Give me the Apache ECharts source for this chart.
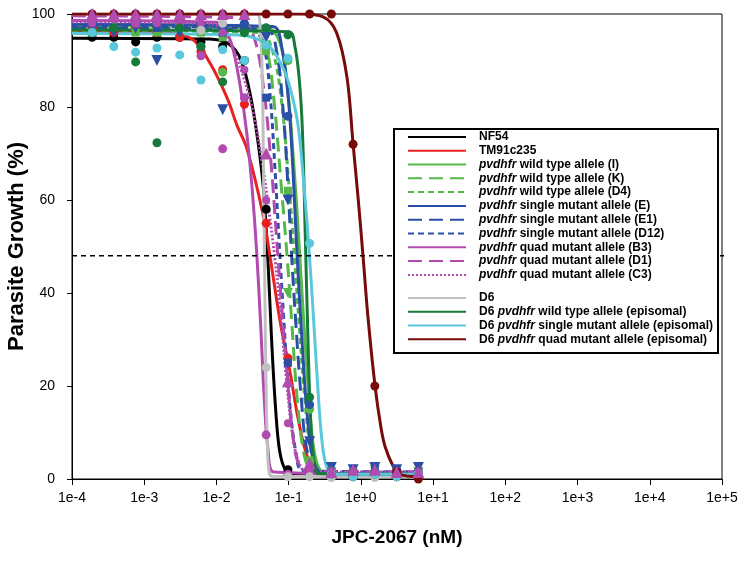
<!DOCTYPE html>
<html><head><meta charset="utf-8">
<script src="https://cdn.jsdelivr.net/npm/echarts@6/dist/echarts.min.js"></script>
<style>html,body{margin:0;padding:0;background:#fff}#c{width:749px;height:561px}</style>
</head><body><div id="c"></div>
<script>
// concentrations (nM), 2-fold dilution series
const conc = [0.00019, 0.00038, 0.00076, 0.0015, 0.0031, 0.0061, 0.0122, 0.0244, 0.0488, 0.0977, 0.195, 0.39, 0.78, 1.56, 3.13, 6.25];
const xTicks = ['1e-4','1e-3','1e-2','1e-1','1e+0','1e+1','1e+2','1e+3','1e+4','1e+5'];
const yTicks = [0, 20, 40, 60, 80, 100];
const cutoff = 48;

// measured points (% growth) per parasite line
const ptsNF54  = [95, 95, 94, 95, 95, 94, 93, 90, 58, 2, 1, 1, 0.5, 1, 0.5, 1];
const ptsTM    = [97, 96, 97, 96, 95, 92, 88, 80.6, 55, 26, 2, 1, 0.5, 1, 0.5, 1];
const ptsWtI   = [98, 97, 98, 97, 98, 97, 87.5, 97, 96, 90, 15, 1, 1.5, 1, 1, 1.5];
const ptsWtK   = [97, 98, 97, 97, 96, 97, 96, 97, 93, 40, 3, 1.5, 1, 2, 1, 1.5];
const ptsWtD4  = [96, 97, 96, 96, 97, 96, 95, 96, 92, 62, 4, 1, 1.5, 1, 1, 1];
const ptsE     = [98, 97, 98, 98, 97, 93, 97, 98, 97, 78, 16, 1, 1.5, 1, 2, 1];
const ptsE1    = [97, 96, 97, 90, 96, 97, 79.4, 96, 95, 60, 8, 2.5, 2, 2.5, 2, 2.5];
const ptsD12   = [98, 97, 98, 97, 98, 97, 96, 97, 82, 25, 2, 1.5, 1, 2, 1, 1.5];
const ptsB3    = [99, 99, 98, 99, 98, 91, 71, 82, 9.5, 1, 1, 1.5, 1, 1, 1.5, 1];
const ptsD1    = [100, 100, 100, 100, 100, 100, 100, 100, 70, 21, 3.4, 1.5, 2, 2, 1.5, 1.5];
const ptsC3    = [98, 99, 98, 98, 97, 98, 96, 88, 60, 12, 2, 1, 1.5, 1, 1, 1.5];
const ptsD6    = [100, 100, 100, 100, 100, 96.5, 98, 100, 24, 0.5, 0.5, 0.3, 0.5, 0.3, 0.5, 0.3];
const ptsD6wt  = [96, 97, 89.7, 72.3, 97, 93, 85.4, 96, 97, 95.5, 17.6, 1, 0.5, 1, 0.5, 1];
const ptsD6sm  = [96, 93, 91.8, 92.7, 91.2, 85.8, 92.3, 90, 93.3, 90.5, 50.7, 1, 0.5, 1, 0.5, 1];
const ptsD6qm  = [100, 100, 100, 100, 100, 100, 100, 100, 100, 100, 100, 100, 72, 20, 1.5, 0];

// fitted curves as [conc, % growth]
const cNF54 = [[1e-4,94.8],[0.008,94.6],[0.015,93.5],[0.022,90],[0.03,82],[0.038,72],[0.045,62],[0.052,46],[0.058,30],[0.066,15],[0.075,6],[0.09,2],[0.12,1],[6.25,1]];
const cTM   = [[1e-4,96.3],[0.002,96],[0.0047,94.5],[0.0081,89.5],[0.014,82],[0.0193,76],[0.0265,71],[0.044,57],[0.055,48],[0.076,34],[0.1045,23],[0.135,13],[0.18,5],[0.25,1.5],[0.4,0.8],[6.25,0.8]];
const cWtI  = [[1e-4,97.5],[0.05,97],[0.075,94],[0.095,85],[0.115,70],[0.14,50],[0.16,35],[0.19,18],[0.22,7],[0.27,2],[0.4,1],[6.25,1]];
const cWtK  = [[1e-4,97],[0.03,96.5],[0.048,93],[0.062,82],[0.078,64],[0.095,48],[0.11,34],[0.13,18],[0.16,6],[0.2,2],[0.3,1],[6.25,1]];
const cWtD4 = [[1e-4,96.5],[0.04,96],[0.06,92],[0.08,81],[0.1,64],[0.12,48],[0.14,33],[0.17,16],[0.21,5],[0.28,1.5],[6.25,1]];
const cE    = [[1e-4,97.8],[0.06,97.3],[0.08,93],[0.1,81],[0.115,66],[0.13,49],[0.15,32],[0.18,14],[0.22,4],[0.3,1.2],[6.25,1.2]];
const cE1   = [[1e-4,97],[0.05,96.5],[0.068,92],[0.085,78],[0.1,60],[0.11,48],[0.125,34],[0.15,17],[0.18,6],[0.24,1.5],[6.25,1.5]];
const cD12  = [[1e-4,97.4],[0.03,97],[0.045,93],[0.055,83],[0.065,66],[0.075,49],[0.085,35],[0.1,19],[0.125,6],[0.16,1.8],[6.25,1.5]];
const cB3   = [[1e-4,98.6],[0.01,98.2],[0.015,95],[0.02,87],[0.026,75],[0.031,63],[0.036,49],[0.041,33],[0.046,17],[0.052,6],[0.062,1.5],[6.25,1]];
const cD1   = [[1e-4,99.6],[0.02,99.2],[0.033,95],[0.045,84],[0.057,68],[0.07,49],[0.082,35],[0.097,21],[0.115,9],[0.14,3],[0.2,1.5],[6.25,1.5]];
const cC3   = [[1e-4,98.3],[0.008,98],[0.014,95],[0.022,88],[0.032,79],[0.043,68],[0.054,57],[0.065,47],[0.076,37],[0.09,24],[0.11,11],[0.135,4],[0.18,1.5],[6.25,1.5]];
const cD6   = [[1e-4,100],[0.036,100],[0.04,98],[0.043,87],[0.045,64],[0.047,38],[0.049,17],[0.051,6],[0.054,1.2],[0.06,0.6],[6.25,0.5]];
const cD6wt = [[1e-4,96.6],[0.1,96.2],[0.122,93],[0.14,86],[0.155,75],[0.17,52],[0.185,30],[0.2,14],[0.22,5],[0.26,1.2],[6.25,1]];
const cD6sm = [[1e-4,95.8],[0.02,95.5],[0.05,93.5],[0.08,89],[0.105,84],[0.135,76],[0.165,62],[0.19,50],[0.22,35],[0.25,21],[0.29,8],[0.34,2.5],[0.45,1],[6.25,1]];
const cD6qm = [[1e-4,100],[0.15,100],[0.3,99.4],[0.46,96],[0.64,86.5],[0.78,72],[0.92,60],[1.07,48],[1.25,35],[1.57,20],[1.9,11],[2.16,7],[2.79,2.8],[3.5,1],[6.25,0.5]];

const names = ['NF54','TM91c235','wtI','wtK','wtD4','smE','smE1','smD12','qmB3','qmD1','qmC3','D6','D6wt','D6sm','D6qm'];
const labels = {
  NF54: 'NF54', TM91c235: 'TM91c235',
  wtI: '{i|pvdhfr} wild type allele (I)', wtK: '{i|pvdhfr} wild type allele (K)', wtD4: '{i|pvdhfr} wild type allele (D4)',
  smE: '{i|pvdhfr} single mutant allele (E)', smE1: '{i|pvdhfr} single mutant allele (E1)', smD12: '{i|pvdhfr} single mutant allele (D12)',
  qmB3: '{i|pvdhfr} quad mutant allele (B3)', qmD1: '{i|pvdhfr} quad mutant allele (D1)', qmC3: '{i|pvdhfr} quad mutant allele (C3)',
  D6: 'D6', D6wt: 'D6 {i|pvdhfr} wild type allele (episomal)', D6sm: 'D6 {i|pvdhfr} single mutant allele (episomal)', D6qm: 'D6 {i|pvdhfr} quad mutant allele (episomal)'
};
const pts = [ptsNF54, ptsTM, ptsWtI, ptsWtK, ptsWtD4, ptsE, ptsE1, ptsD12, ptsB3, ptsD1, ptsC3, ptsD6, ptsD6wt, ptsD6sm, ptsD6qm];
const curves = [cNF54, cTM, cWtI, cWtK, cWtD4, cE, cE1, cD12, cB3, cD1, cC3, cD6, cD6wt, cD6sm, cD6qm];

const GREEN = '#55b848', BLUE = '#2a4fa5', MAG = '#b24bb0';
const styles = [
  {color:'#000000', dash:'solid', sym:'circle', size:9},
  {color:'#e8211f', dash:'solid', sym:'circle', size:9},
  {color:GREEN, dash:'solid', sym:'circle', size:9},
  {color:GREEN, dash:[14,7], sym:'triangle', size:10, rot:180},
  {color:GREEN, dash:[6,4], sym:'rect', size:8},
  {color:BLUE, dash:'solid', sym:'circle', size:9},
  {color:BLUE, dash:[14,7], sym:'triangle', size:11, rot:180},
  {color:BLUE, dash:[6,4], sym:'rect', size:8},
  {color:MAG, dash:'solid', sym:'circle', size:9},
  {color:MAG, dash:[14,7], sym:'triangle', size:12},
  {color:MAG, dash:[2,2], sym:'circle', size:8},
  {color:'#c0c0c0', dash:'solid', sym:'circle', size:9},
  {color:'#167a3a', dash:'solid', sym:'circle', size:9},
  {color:'#5ac8dc', dash:'solid', sym:'circle', size:9},
  {color:'#780a0a', dash:'solid', sym:'circle', size:9}
];

const FONT = 'Liberation Sans, Arial, sans-serif';
const series = [];
names.forEach((n, k) => {
  const s = styles[k];
  series.push({
    name: n, type: 'line', data: curves[k], symbol: 'none', smooth: 0.35,
    lineStyle: {color: s.color, width: 3, type: s.dash},
    itemStyle: {color: 'rgba(0,0,0,0)'}, z: 2, silent: true, animation: false
  });
});
names.forEach((n, k) => {
  const s = styles[k];
  series.push({
    name: n + ' points', type: 'scatter', data: conc.map((c, i) => [c, pts[k][i]]),
    symbol: s.sym, symbolSize: s.size, symbolRotate: s.rot || 0,
    itemStyle: {color: s.color, opacity: 1}, z: n === 'qmD1' ? 4 : 3, silent: true, animation: false
  });
});
series.push({
  name: 'cutoff', type: 'line', data: [[1e-4, cutoff], [1.17e5, cutoff]], symbol: 'none', clip: false,
  lineStyle: {color: '#000', width: 1.5, type: [5, 4]}, z: 2, silent: true, animation: false
});

const legendBase = {
  orient: 'vertical', left: 407, itemWidth: 58, itemHeight: 10, itemGap: 0, padding: 0,
  selectedMode: false, lineStyle: {width: 2},
  formatter: n => labels[n],
  textStyle: {fontFamily: FONT, fontSize: 12, fontWeight: 'bold', color: '#000', lineHeight: 13.8, padding: [0,0,0,8],
    rich: {i: {fontFamily: FONT, fontSize: 12, fontWeight: 'bold', fontStyle: 'italic', color: '#000'}}}
};

const chart = echarts.init(document.getElementById('c'), null, {renderer: 'canvas'});
chart.setOption({
  animation: false,
  backgroundColor: '#fff',
  grid: {left: 72, right: 27, top: 14, bottom: 82, show: true, borderColor: '#000', borderWidth: 1,
    containLabel: false, outerBoundsMode: 'none'},
  xAxis: {
    type: 'log', logBase: 10, min: 1e-4, max: 1e5, splitNumber: 9,
    name: 'JPC-2067 (nM)', nameLocation: 'middle', nameGap: 49, nameMoveOverlap: false,
    nameTextStyle: {fontFamily: FONT, fontSize: 19, fontWeight: 'bold', color: '#000'},
    axisLine: {lineStyle: {color: '#000', width: 1}},
    axisTick: {show: true, length: 6, lineStyle: {color: '#000'}},
    minorTick: {show: false},
    splitLine: {show: false},
    axisLabel: {fontFamily: FONT, fontSize: 14, color: '#000', margin: 12,
      formatter: v => xTicks[Math.round(Math.log10(v)) + 4]}
  },
  yAxis: {
    type: 'value', min: yTicks[0], max: yTicks[yTicks.length - 1], interval: 20,
    name: 'Parasite Growth (%)', nameLocation: 'middle', nameGap: 44, nameRotate: 90, nameMoveOverlap: false,
    nameTextStyle: {fontFamily: FONT, fontSize: 22, fontWeight: 'bold', color: '#000'},
    axisLine: {show: true, lineStyle: {color: '#000', width: 1}},
    axisTick: {show: true, length: 5, lineStyle: {color: '#000'}},
    splitLine: {show: false},
    axisLabel: {fontFamily: FONT, fontSize: 14, color: '#000', margin: 17}
  },
  legend: [
    Object.assign({}, legendBase, {top: 130, data: names.slice(0, 11)}),
    Object.assign({}, legendBase, {top: 291, data: names.slice(11)})
  ],
  graphic: [{type: 'rect', left: 393, top: 128, z: 3, silent: true,
    shape: {width: 324, height: 224}, style: {fill: '#fff', stroke: '#000', lineWidth: 2}}],
  series: series
});
</script></body></html>
